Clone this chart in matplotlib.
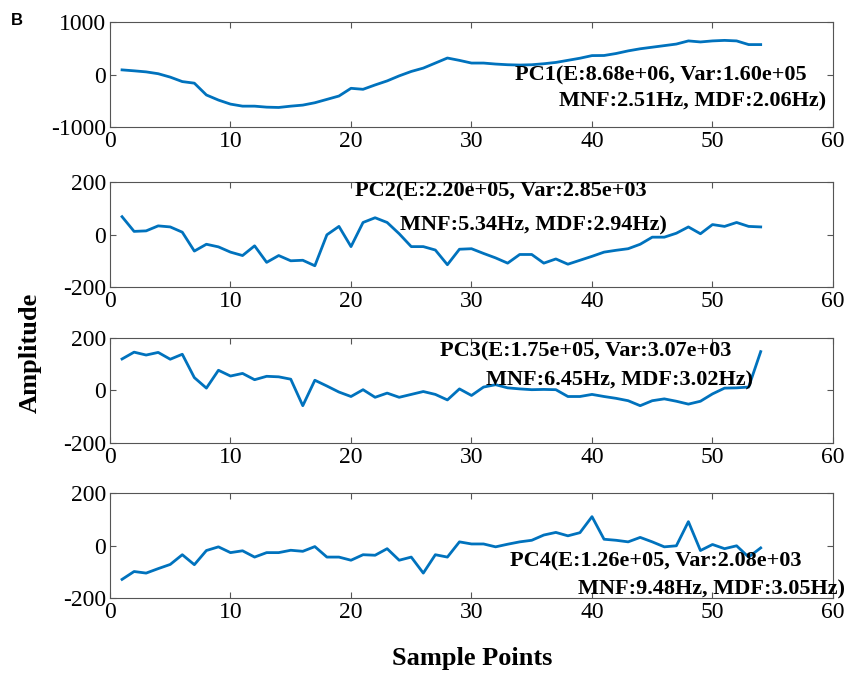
import numpy as np
import matplotlib
matplotlib.use("Agg")
import matplotlib.pyplot as plt

plt.rcParams["font.family"] = ["Liberation Serif", "DejaVu Serif"]
plt.rcParams["axes.unicode_minus"] = False

x = np.arange(1, 55)

pc1 = [88, 70, 50, 15, -50, -135, -165, -390, -487, -564, -603, -603, -622, -628,
       -603, -583, -538, -474, -410, -263, -282, -199, -122, -26, 58, 122, 218, 314,
       269, 218, 218, 199, 186, 180, 186, 205, 230, 270, 310, 360, 362, 400, 450, 490,
       520, 550, 580, 640, 620, 640, 650, 640, 570, 570]
pc2 = [68, 12, 14, 33, 29, 9, -63, -37, -47, -67, -80, -43, -106, -80, -100, -98,
       -119, -1, 31, -46, 46, 64, 46, 3, -46, -46, -59, -115, -56, -54, -72, -89,
       -109, -76, -76, -109, -93, -113, -98, -83, -67, -60, -54, -37, -10, -10, 5, 29,
       3, 38, 31, 46, 31, 29]
pc3 = [120, 146, 135, 145, 119, 138, 49, 9, 77, 55, 65, 41, 54, 52, 43, -58, 39, 17,
       -6, -23, 3, -26, -10, -26, -15, -4, -15, -36, 6, -19, 13, 22, 10, 6, 3, 4, 3,
       -23, -23, -15, -23, -30, -39, -58, -39, -32, -41, -52, -41, -13, 9, 10, 13, 148]
pc4 = [-129, -99, -105, -88, -72, -35, -73, -19, -5, -27, -20, -44, -27, -27, -18, -22,
       -4, -44, -44, -56, -35, -37, -12, -56, -44, -105, -35, -44, 14, 6, 6, -5, 5, 14,
       20, 40, 50, 37, 49, 110, 24, 20, 14, 31, 14, -5, -1, 91, -19, 4, -12, -1, -44, -9]

series = [pc1, pc2, pc3, pc4]
ylims = [(-1000, 1000), (-200, 200), (-200, 200), (-200, 200)]
yticks = [[-1000, 0, 1000], [-200, 0, 200], [-200, 0, 200], [-200, 0, 200]]
line1 = ["PC1(E:8.68e+06, Var:1.60e+05", "PC2(E:2.20e+05, Var:2.85e+03",
         "PC3(E:1.75e+05, Var:3.07e+03", "PC4(E:1.26e+05, Var:2.08e+03"]
line2 = ["MNF:2.51Hz, MDF:2.06Hz)", "MNF:5.34Hz, MDF:2.94Hz)",
         "MNF:6.45Hz, MDF:3.02Hz)", "MNF:9.48Hz, MDF:3.05Hz)"]
# text anchor points in data units (x, y of line 1, x, y of line 2)
txt_pos = [(33.6, -10, 37.3, -505), (20.3, 165, 24.1, 35),
           (27.4, 150, 31.2, 38), (33.2, -62, 38.8, -167)]

fig = plt.figure(figsize=(8.5, 6.73), dpi=100)
bottoms = [0.8113, 0.5735, 0.3418, 0.1114]

for i in range(4):
    ax = fig.add_axes([0.1294, bottoms[i], 0.8506, 0.156])
    ax.plot(x, series[i], color="#0072BD", linewidth=2.0)
    ax.set_xlim(0, 60)
    ax.set_ylim(*ylims[i])
    ax.set_xticks(range(0, 61, 10))
    ax.set_yticks(yticks[i])
    ax.tick_params(direction="in", top=True, right=True, labelsize=17,
                   length=4, width=0.8, color="#555555", pad=3)
    for sp in ax.spines.values():
        sp.set_color("#555555")
        sp.set_linewidth(0.8)
    tx1, ty1, tx2, ty2 = txt_pos[i]
    ax.text(tx1, ty1, line1[i], fontsize=16, fontweight="bold", va="center",
            ha="left", zorder=5, clip_on=False)
    ax.text(tx2, ty2, line2[i], fontsize=16, fontweight="bold", va="center",
            ha="left", zorder=5, clip_on=False)

fig.text(0.035, 0.475, "Amplitude", rotation=90, fontsize=19, fontweight="bold",
         ha="center", va="center")
fig.text(0.555, 0.022, "Sample Points", fontsize=19, fontweight="bold",
         ha="center", va="center")
fig.text(0.013, 0.97, "B", fontsize=12, fontweight="bold",
         family=["Liberation Sans", "DejaVu Sans"], ha="left", va="center")

fig.savefig("out.png", dpi=100)
